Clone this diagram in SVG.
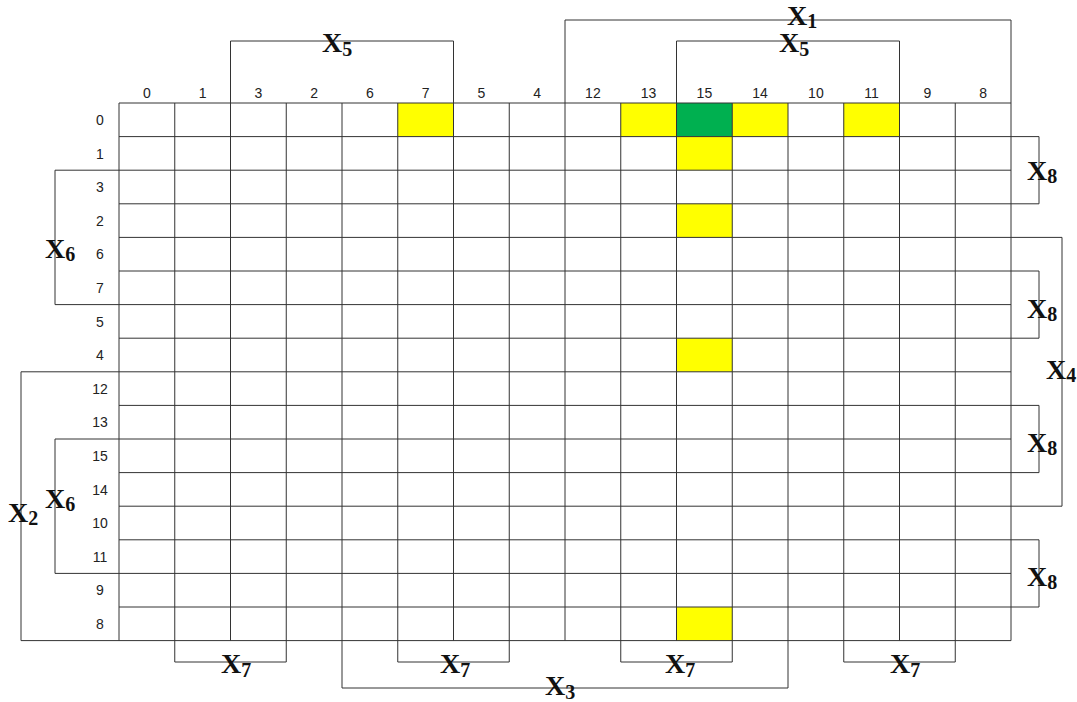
<svg xmlns="http://www.w3.org/2000/svg" width="1077" height="702" viewBox="0 0 1077 702">
<style>
.num{font-family:"Liberation Sans",Arial,sans-serif;font-size:14px;fill:#222;text-anchor:middle}
.grid line{stroke:#333;stroke-width:1}
.br{fill:none;stroke:#333;stroke-width:1}
.lab{font-family:"Liberation Serif","Times New Roman",serif;font-size:28px;font-weight:bold;fill:#111}
.sub{font-size:20px;font-weight:bold}
.y{fill:#FFFF00}
.g{fill:#00B050}
</style>
<rect width="1077" height="702" fill="#fff"/>
<g id="cells">
<rect class="y" x="397.75" y="103" width="55.75" height="33.6"/>
<rect class="y" x="620.75" y="103" width="55.75" height="33.6"/>
<rect class="g" x="676.5" y="103" width="55.75" height="33.6"/>
<rect class="y" x="732.25" y="103" width="55.75" height="33.6"/>
<rect class="y" x="843.75" y="103" width="55.75" height="33.6"/>
<rect class="y" x="676.5" y="136.6" width="55.75" height="33.6"/>
<rect class="y" x="676.5" y="203.8" width="55.75" height="33.6"/>
<rect class="y" x="676.5" y="338.2" width="55.75" height="33.6"/>
<rect class="y" x="676.5" y="607" width="55.75" height="33.6"/>
</g>
<g id="grid" class="grid">
<line x1="119" y1="103" x2="1011" y2="103"/>
<line x1="119" y1="136.6" x2="1011" y2="136.6"/>
<line x1="119" y1="170.2" x2="1011" y2="170.2"/>
<line x1="119" y1="203.8" x2="1011" y2="203.8"/>
<line x1="119" y1="237.4" x2="1011" y2="237.4"/>
<line x1="119" y1="271" x2="1011" y2="271"/>
<line x1="119" y1="304.6" x2="1011" y2="304.6"/>
<line x1="119" y1="338.2" x2="1011" y2="338.2"/>
<line x1="119" y1="371.8" x2="1011" y2="371.8"/>
<line x1="119" y1="405.4" x2="1011" y2="405.4"/>
<line x1="119" y1="439" x2="1011" y2="439"/>
<line x1="119" y1="472.6" x2="1011" y2="472.6"/>
<line x1="119" y1="506.2" x2="1011" y2="506.2"/>
<line x1="119" y1="539.8" x2="1011" y2="539.8"/>
<line x1="119" y1="573.4" x2="1011" y2="573.4"/>
<line x1="119" y1="607" x2="1011" y2="607"/>
<line x1="119" y1="640.6" x2="1011" y2="640.6"/>
<line x1="119" y1="103" x2="119" y2="640.6"/>
<line x1="174.75" y1="103" x2="174.75" y2="640.6"/>
<line x1="230.5" y1="103" x2="230.5" y2="640.6"/>
<line x1="286.25" y1="103" x2="286.25" y2="640.6"/>
<line x1="342" y1="103" x2="342" y2="640.6"/>
<line x1="397.75" y1="103" x2="397.75" y2="640.6"/>
<line x1="453.5" y1="103" x2="453.5" y2="640.6"/>
<line x1="509.25" y1="103" x2="509.25" y2="640.6"/>
<line x1="565" y1="103" x2="565" y2="640.6"/>
<line x1="620.75" y1="103" x2="620.75" y2="640.6"/>
<line x1="676.5" y1="103" x2="676.5" y2="640.6"/>
<line x1="732.25" y1="103" x2="732.25" y2="640.6"/>
<line x1="788" y1="103" x2="788" y2="640.6"/>
<line x1="843.75" y1="103" x2="843.75" y2="640.6"/>
<line x1="899.5" y1="103" x2="899.5" y2="640.6"/>
<line x1="955.25" y1="103" x2="955.25" y2="640.6"/>
<line x1="1011" y1="103" x2="1011" y2="640.6"/>
</g>
<g id="col-labels" class="num">
<text x="146.9" y="98">0</text>
<text x="202.6" y="98">1</text>
<text x="258.4" y="98">3</text>
<text x="314.1" y="98">2</text>
<text x="369.9" y="98">6</text>
<text x="425.6" y="98">7</text>
<text x="481.4" y="98">5</text>
<text x="537.1" y="98">4</text>
<text x="592.9" y="98">12</text>
<text x="648.6" y="98">13</text>
<text x="704.4" y="98">15</text>
<text x="760.1" y="98">14</text>
<text x="815.9" y="98">10</text>
<text x="871.6" y="98">11</text>
<text x="927.4" y="98">9</text>
<text x="983.1" y="98">8</text>
</g>
<g id="row-labels" class="num">
<text x="100" y="125">0</text>
<text x="100" y="158.6">1</text>
<text x="100" y="192.2">3</text>
<text x="100" y="225.8">2</text>
<text x="100" y="259.4">6</text>
<text x="100" y="293">7</text>
<text x="100" y="326.6">5</text>
<text x="100" y="360.2">4</text>
<text x="100" y="393.8">12</text>
<text x="100" y="427.4">13</text>
<text x="100" y="461">15</text>
<text x="100" y="494.6">14</text>
<text x="100" y="528.2">10</text>
<text x="100" y="561.8">11</text>
<text x="100" y="595.4">9</text>
<text x="100" y="629">8</text>
</g>
<g id="connectors">
<polyline class="br" points="230.5,103 230.5,41 453.5,41 453.5,103"/>
<polyline class="br" points="565,103 565,20 1011,20 1011,103"/>
<polyline class="br" points="676.5,103 676.5,41 899.5,41 899.5,103"/>
<polyline class="br" points="1011,136.6 1039,136.6 1039,203.8 1011,203.8"/>
<polyline class="br" points="1011,271 1039,271 1039,338.2 1011,338.2"/>
<polyline class="br" points="1011,405.4 1039,405.4 1039,472.6 1011,472.6"/>
<polyline class="br" points="1011,539.8 1039,539.8 1039,607 1011,607"/>
<polyline class="br" points="1011,237.4 1062,237.4 1062,506.2 1011,506.2"/>
<polyline class="br" points="119,170.2 55,170.2 55,304.6 119,304.6"/>
<polyline class="br" points="119,371.8 21,371.8 21,640.6 119,640.6"/>
<polyline class="br" points="119,439 55,439 55,573.4 119,573.4"/>
<polyline class="br" points="174.75,640.6 174.75,662 286.25,662 286.25,640.6"/>
<polyline class="br" points="397.75,640.6 397.75,662 509.25,662 509.25,640.6"/>
<polyline class="br" points="620.75,640.6 620.75,662 732.25,662 732.25,640.6"/>
<polyline class="br" points="843.75,640.6 843.75,662 955.25,662 955.25,640.6"/>
<polyline class="br" points="342,640.6 342,688 788,688 788,640.6"/>
</g>
<g id="labels" class="lab">
<text x="787" y="25">X<tspan class="sub" dy="3">1</tspan></text>
<text x="322" y="52">X<tspan class="sub" dy="4">5</tspan></text>
<text x="779" y="52">X<tspan class="sub" dy="4">5</tspan></text>
<text x="1027" y="180">X<tspan class="sub" dy="3">8</tspan></text>
<text x="1027" y="318">X<tspan class="sub" dy="3">8</tspan></text>
<text x="1027" y="452">X<tspan class="sub" dy="3">8</tspan></text>
<text x="1027" y="586">X<tspan class="sub" dy="3">8</tspan></text>
<text x="1046" y="379">X<tspan class="sub" dy="3">4</tspan></text>
<text x="45" y="258">X<tspan class="sub" dy="3">6</tspan></text>
<text x="8" y="522">X<tspan class="sub" dy="3">2</tspan></text>
<text x="45" y="508">X<tspan class="sub" dy="3">6</tspan></text>
<text x="221" y="673">X<tspan class="sub" dy="4">7</tspan></text>
<text x="440" y="673">X<tspan class="sub" dy="4">7</tspan></text>
<text x="665" y="673">X<tspan class="sub" dy="4">7</tspan></text>
<text x="890" y="673">X<tspan class="sub" dy="4">7</tspan></text>
<text x="545" y="695">X<tspan class="sub" dy="4">3</tspan></text>
</g>
</svg>
